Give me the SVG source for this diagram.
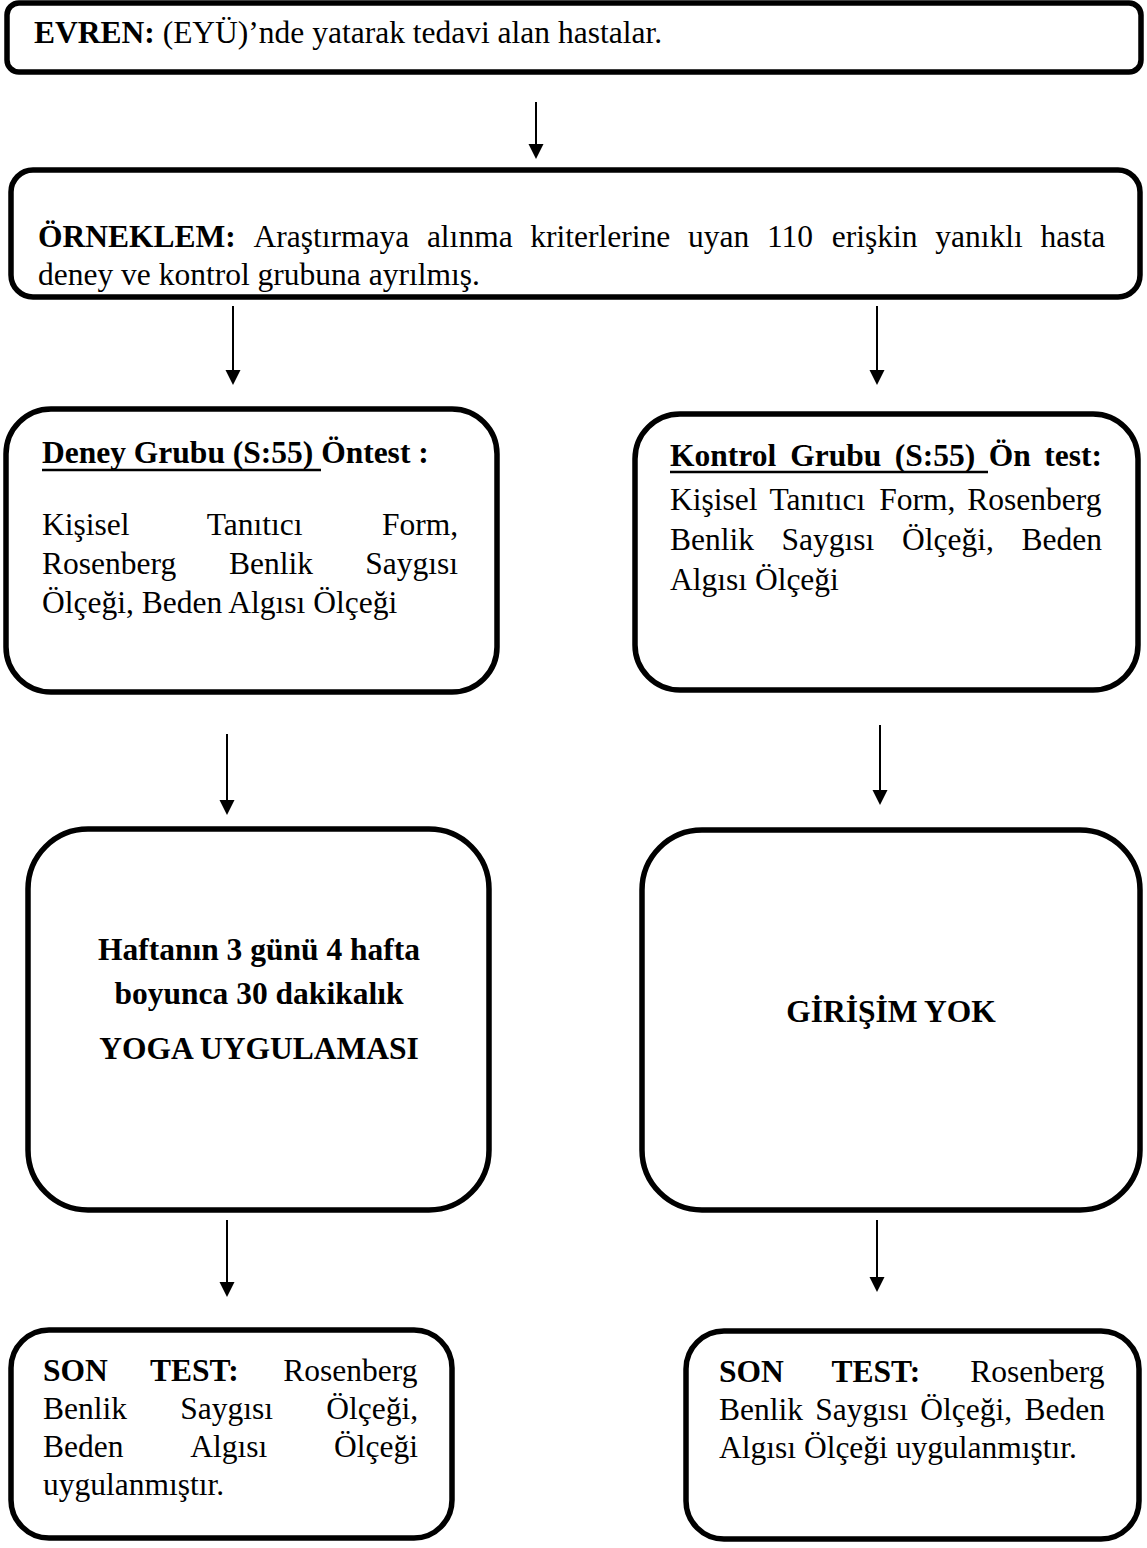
<svg xmlns="http://www.w3.org/2000/svg" width="1147" height="1548" viewBox="0 0 1147 1548">
<style>
.box{fill:#fff;stroke:#000;stroke-width:5.5}
text{font-family:"Liberation Serif","Times New Roman",serif;font-size:31.5px;fill:#000}
.b{font-weight:bold}
.c{text-anchor:middle}
.ul{stroke:#000;stroke-width:2.5}
.conn line{stroke:#000;stroke-width:2}
.conn polygon{fill:#000}
</style>
<rect width="1147" height="1548" fill="#fff"/>
<g id="evren">
<rect class="box" x="7" y="3" width="1134" height="69" rx="12"/>
<text x="34" y="43"><tspan class="b">EVREN: </tspan>(EYÜ)’nde yatarak tedavi alan hastalar.</text>
</g>
<g id="orneklem">
<rect class="box" x="11" y="170" width="1129" height="127" rx="22"/>
<text y="247"><tspan class="b" x="38">ÖRNEKLEM:</tspan><tspan x="253.5">Araştırmaya</tspan><tspan x="426.9">alınma</tspan><tspan x="530.3">kriterlerine</tspan><tspan x="688">uyan</tspan><tspan x="766.9">110</tspan><tspan x="831.85">erişkin</tspan><tspan x="935.25">yanıklı</tspan><tspan x="1040.45">hasta</tspan></text>
<text x="38" y="285">deney ve kontrol grubuna ayrılmış.</text>
</g>
<g id="deney">
<rect class="box" x="6" y="409" width="491" height="283" rx="45"/>
<text x="42" y="463" class="b">Deney Grubu (S:55) Öntest :</text>
<line class="ul" x1="42" y1="470" x2="321" y2="470"/>
<text y="535"><tspan x="42">Kişisel</tspan><tspan x="206.7">Tanıtıcı</tspan><tspan x="381.9">Form,</tspan></text>
<text y="574"><tspan x="42">Rosenberg</tspan><tspan x="228.95">Benlik</tspan><tspan x="365.2">Saygısı</tspan></text>
<text x="42" y="613">Ölçeği, Beden Algısı Ölçeği</text>
</g>
<g id="kontrol">
<rect class="box" x="635" y="414" width="503" height="276" rx="45"/>
<text y="466" class="b"><tspan x="670">Kontrol</tspan><tspan x="790.25">Grubu</tspan><tspan x="894.75">(S:55)</tspan><tspan x="988.75">Ön</tspan><tspan x="1044.25">test:</tspan></text>
<line class="ul" x1="670" y1="472" x2="988" y2="472"/>
<text y="510"><tspan x="670">Kişisel</tspan><tspan x="769.4">Tanıtıcı</tspan><tspan x="879.3">Form,</tspan><tspan x="967.3">Rosenberg</tspan></text>
<text y="550"><tspan x="670">Benlik</tspan><tspan x="781.6">Saygısı</tspan><tspan x="902">Ölçeği,</tspan><tspan x="1021.45">Beden</tspan></text>
<text x="670" y="590">Algısı Ölçeği</text>
</g>
<g id="yoga">
<rect class="box" x="28" y="829" width="461" height="381" rx="60"/>
<text class="b c" x="259" y="960">Haftanın 3 günü 4 hafta</text>
<text class="b c" x="259" y="1004">boyunca 30 dakikalık</text>
<text class="b c" x="259" y="1059">YOGA UYGULAMASI</text>
</g>
<g id="girisim">
<rect class="box" x="642" y="830" width="498" height="380" rx="60"/>
<text class="b c" x="891" y="1022">GİRİŞİM YOK</text>
</g>
<g id="sontest-deney">
<rect class="box" x="11" y="1330" width="441" height="208" rx="38"/>
<text y="1381"><tspan class="b" x="43">SON</tspan><tspan class="b" x="150.05">TEST:</tspan><tspan x="283.3">Rosenberg</tspan></text>
<text y="1419"><tspan x="43">Benlik</tspan><tspan x="180.2">Saygısı</tspan><tspan x="326.2">Ölçeği,</tspan></text>
<text y="1457"><tspan x="43">Beden</tspan><tspan x="190.25">Algısı</tspan><tspan x="334">Ölçeği</tspan></text>
<text x="43" y="1495">uygulanmıştır.</text>
</g>
<g id="sontest-kontrol">
<rect class="box" x="686" y="1331" width="453" height="208" rx="38"/>
<text y="1382"><tspan class="b" x="719">SON</tspan><tspan class="b" x="831.55">TEST:</tspan><tspan x="970.3">Rosenberg</tspan></text>
<text y="1420"><tspan x="719">Benlik</tspan><tspan x="815.28">Saygısı</tspan><tspan x="920.36">Ölçeği,</tspan><tspan x="1024.49">Beden</tspan></text>
<text x="719" y="1458">Algısı Ölçeği uygulanmıştır.</text>
</g>
<g id="connectors" class="conn">
<line x1="536" y1="102" x2="536" y2="146"/><polygon points="528.5,144 543.5,144 536,159"/>
<line x1="233" y1="306" x2="233" y2="372"/><polygon points="225.5,370 240.5,370 233,385"/>
<line x1="877" y1="306" x2="877" y2="372"/><polygon points="869.5,370 884.5,370 877,385"/>
<line x1="227" y1="734" x2="227" y2="802"/><polygon points="219.5,800 234.5,800 227,815"/>
<line x1="880" y1="725" x2="880" y2="792"/><polygon points="872.5,790 887.5,790 880,805"/>
<line x1="227" y1="1220" x2="227" y2="1284"/><polygon points="219.5,1282 234.5,1282 227,1297"/>
<line x1="877" y1="1220" x2="877" y2="1279"/><polygon points="869.5,1277 884.5,1277 877,1292"/>
</g>
</svg>
